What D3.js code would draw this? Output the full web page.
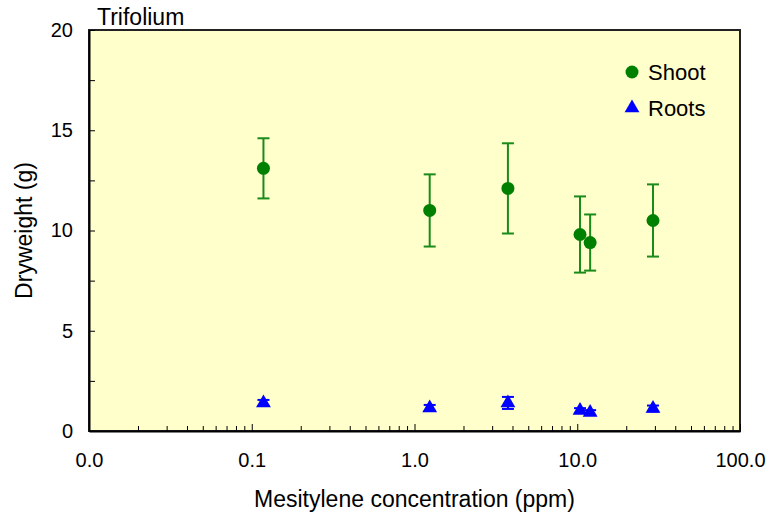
<!DOCTYPE html>
<html>
<head>
<meta charset="utf-8">
<script src="https://cdn.jsdelivr.net/npm/d3@7"></script>
<style>
  body { margin: 0; background: #fff; }
  text { font-family: "Liberation Sans Narrow", "Arial Narrow", "Liberation Sans", sans-serif; fill: #000; }
</style>
</head>
<body>
<div id="chart"></div>
<script>
// data
const concentration = [0.118, 1.24, 3.75, 10.4, 12.0, 29.2];
const shootMean = [13.1, 11.0, 12.1, 9.8, 9.4, 10.5];
const shootErr = [1.5, 1.8, 2.25, 1.9, 1.4, 1.8];
const rootsMean = [1.4, 1.15, 1.4, 1.02, 0.92, 1.12];
const rootsErr = [0.15, 0.15, 0.3, 0.12, 0.12, 0.15];
const xTickValues = [0.01, 0.1, 1, 10, 100];
const xTickLabels = ["0.0", "0.1", "1.0", "10.0", "100.0"];
const yTickValues = [0, 5, 10, 15, 20];

const W = 771, H = 522;
const margin = { top: 30, right: 31, bottom: 91, left: 89 };
const width = W - margin.left - margin.right;
const height = H - margin.top - margin.bottom;

const svg = d3.select("#chart").append("svg")
  .attr("width", W).attr("height", H);
const g = svg.append("g")
  .attr("transform", "translate(" + margin.left + "," + margin.top + ")");

const x = d3.scaleLog().domain([0.01, 100]).range([0, width]);
const y = d3.scaleLinear().domain([0, 20]).range([height, 0]);

g.append("rect").attr("width", width).attr("height", height)
  .attr("fill", "#ffffcc").attr("stroke", "#222").attr("stroke-width", 2);

// x minor ticks (2..9 of each decade), inward
const xMinor = [];
[0.01, 0.1, 1, 10].forEach(d => { for (let k = 2; k <= 9; k++) xMinor.push(d * k); });
g.append("g").attr("transform", "translate(0," + height + ")")
  .call(d3.axisTop(x).tickValues(xMinor).tickSize(5).tickFormat(""))
  .call(a => a.select(".domain").remove())
  .selectAll("line").attr("stroke", "#000");

// x major
const xAxis = g.append("g").attr("transform", "translate(0," + height + ")")
  .call(d3.axisBottom(x).tickValues(xTickValues).tickSizeInner(-7).tickSizeOuter(0)
    .tickFormat((d, i) => xTickLabels[i]).tickPadding(22));
xAxis.select(".domain").attr("stroke", "#000").attr("stroke-width", 2);
xAxis.selectAll("text").attr("font-size", 20);

// y minor
g.append("g")
  .call(d3.axisRight(y).tickValues([2.5, 7.5, 12.5, 17.5]).tickSize(6).tickFormat(""))
  .call(a => a.select(".domain").remove())
  .selectAll("line").attr("stroke", "#000");

const yAxis = g.append("g")
  .call(d3.axisLeft(y).tickValues(yTickValues).tickSizeInner(-6).tickSizeOuter(0).tickPadding(16));
yAxis.select(".domain").attr("stroke", "#000").attr("stroke-width", 2);
yAxis.selectAll("text").attr("font-size", 20);

// error bars
function errorBars(means, errs, color) {
  const eb = g.append("g").attr("stroke", color).attr("stroke-width", 2);
  concentration.forEach((c, i) => {
    const cx = x(c), lo = y(means[i] - errs[i]), hi = y(means[i] + errs[i]);
    eb.append("line").attr("x1", cx).attr("x2", cx).attr("y1", lo).attr("y2", hi);
    eb.append("line").attr("x1", cx - 6).attr("x2", cx + 6).attr("y1", lo).attr("y2", lo);
    eb.append("line").attr("x1", cx - 6).attr("x2", cx + 6).attr("y1", hi).attr("y2", hi);
  });
}
errorBars(shootMean, shootErr, "#1a8a1a");
errorBars(rootsMean, rootsErr, "#0000ff");

g.selectAll(".shoot").data(concentration).enter().append("circle")
  .attr("cx", d => x(d)).attr("cy", (d, i) => y(shootMean[i]))
  .attr("r", 6.5).attr("fill", "#008000");

const tri = d3.symbol().type(d3.symbolTriangle).size(95);
g.selectAll(".roots").data(concentration).enter().append("path")
  .attr("d", tri)
  .attr("transform", (d, i) => "translate(" + x(d) + "," + y(rootsMean[i]) + ")")
  .attr("fill", "#0000ff");

// legend
const legend = g.append("g").attr("transform", "translate(543,42)");
legend.append("circle").attr("cx", 0).attr("cy", 0).attr("r", 6.5).attr("fill", "#008000");
legend.append("text").attr("x", 16).attr("y", 8).attr("font-size", 22).text("Shoot");
legend.append("path").attr("d", tri).attr("transform", "translate(0,36)").attr("fill", "#0000ff");
legend.append("text").attr("x", 16).attr("y", 44).attr("font-size", 22).text("Roots");

// titles
svg.append("text").attr("x", 97).attr("y", 25).attr("font-size", 23).text("Trifolium");
svg.append("text").attr("x", margin.left + width / 2).attr("y", 507)
  .attr("text-anchor", "middle").attr("font-size", 23).text("Mesitylene concentration (ppm)");
svg.append("text").attr("transform", "translate(32," + (margin.top + height / 2) + ") rotate(-90)")
  .attr("text-anchor", "middle").attr("font-size", 23).text("Dryweight (g)");
</script>
</body>
</html>
